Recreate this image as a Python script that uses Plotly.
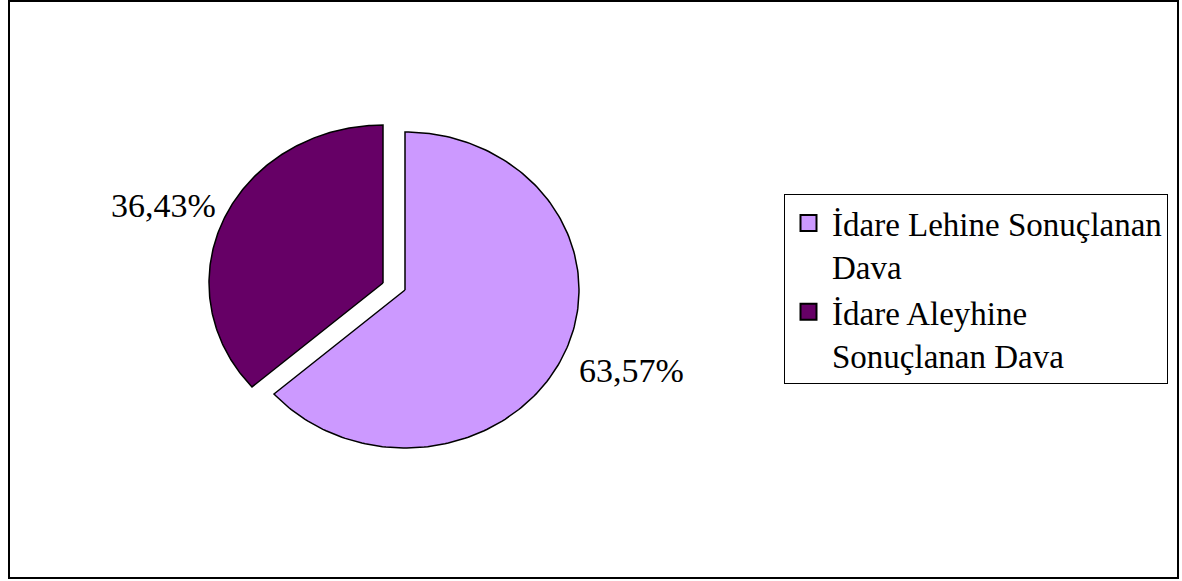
import numpy as np
import plotly.graph_objects as go

# Dava sonuçları dağılımı (%)
labels = ["İdare Lehine Sonuçlanan<br>Dava", "İdare Aleyhine<br>Sonuçlanan Dava"]
values = [63.57, 36.43]
colors = ["#CC99FF", "#660066"]

W, H = 1182, 581
FONT = "Liberation Serif"

# Elliptical pie geometry (pixel-like data units, y grows downward)
CX, CY = 405, 290
RX, RY = 174, 158
# explosion offsets per slice
offsets = [(0, 0), (-22, -7)]
# label offsets from slice mid-point on the rim, and anchors
label_shift = [(14, 15, "left"), (-7, -12, "right")]

fig = go.Figure()

total = sum(values)
start = 0.0
for i, (lab, v, col) in enumerate(zip(labels, values, colors)):
    sweep = 360.0 * v / total
    th = np.radians(np.linspace(start, start + sweep, 200))
    ox, oy = offsets[i]
    cx, cy = CX + ox, CY + oy
    xs = np.concatenate([[cx], cx + RX * np.sin(th), [cx]])
    ys = np.concatenate([[cy], cy - RY * np.cos(th), [cy]])
    fig.add_trace(go.Scatter(
        x=xs, y=ys, mode="lines", fill="toself", fillcolor=col,
        line=dict(color="black", width=1.5), showlegend=False, hoverinfo="skip",
    ))
    mid = np.radians(start + sweep / 2)
    mx, my = cx + RX * np.sin(mid), cy - RY * np.cos(mid)
    dx, dy, anchor = label_shift[i]
    fig.add_annotation(
        x=mx + dx, y=my + dy, xref="x", yref="y",
        text=f"{v:.2f}".replace(".", ",") + "%",
        showarrow=False, xanchor=anchor, yanchor="middle",
        font=dict(family=FONT, size=34, color="black"),
    )
    # legend entry
    fig.add_trace(go.Scatter(
        x=[None], y=[None], mode="markers", name=lab,
        marker=dict(symbol="square", size=17, color=col, line=dict(color="black", width=2)),
    ))
    start += sweep

fig.update_layout(
    width=W, height=H,
    margin=dict(l=0, r=0, t=0, b=0),
    paper_bgcolor="white", plot_bgcolor="white",
    xaxis=dict(range=[0, W], visible=False, fixedrange=True),
    yaxis=dict(range=[H, 0], visible=False, fixedrange=True),
    showlegend=True,
    legend=dict(
        x=784 / W, y=1 - 289 / H, xanchor="left", yanchor="middle",
        bordercolor="black", borderwidth=1, bgcolor="white",
        font=dict(family=FONT, size=33, color="black"),
        itemwidth=37, valign="top",
    ),
    shapes=[dict(
        type="rect", xref="paper", yref="paper",
        x0=9 / W, x1=1178 / W, y0=1 - 578 / H, y1=1 - 1 / H,
        line=dict(color="black", width=2), fillcolor="rgba(0,0,0,0)",
    )],
)

fig.write_html("out.html")
